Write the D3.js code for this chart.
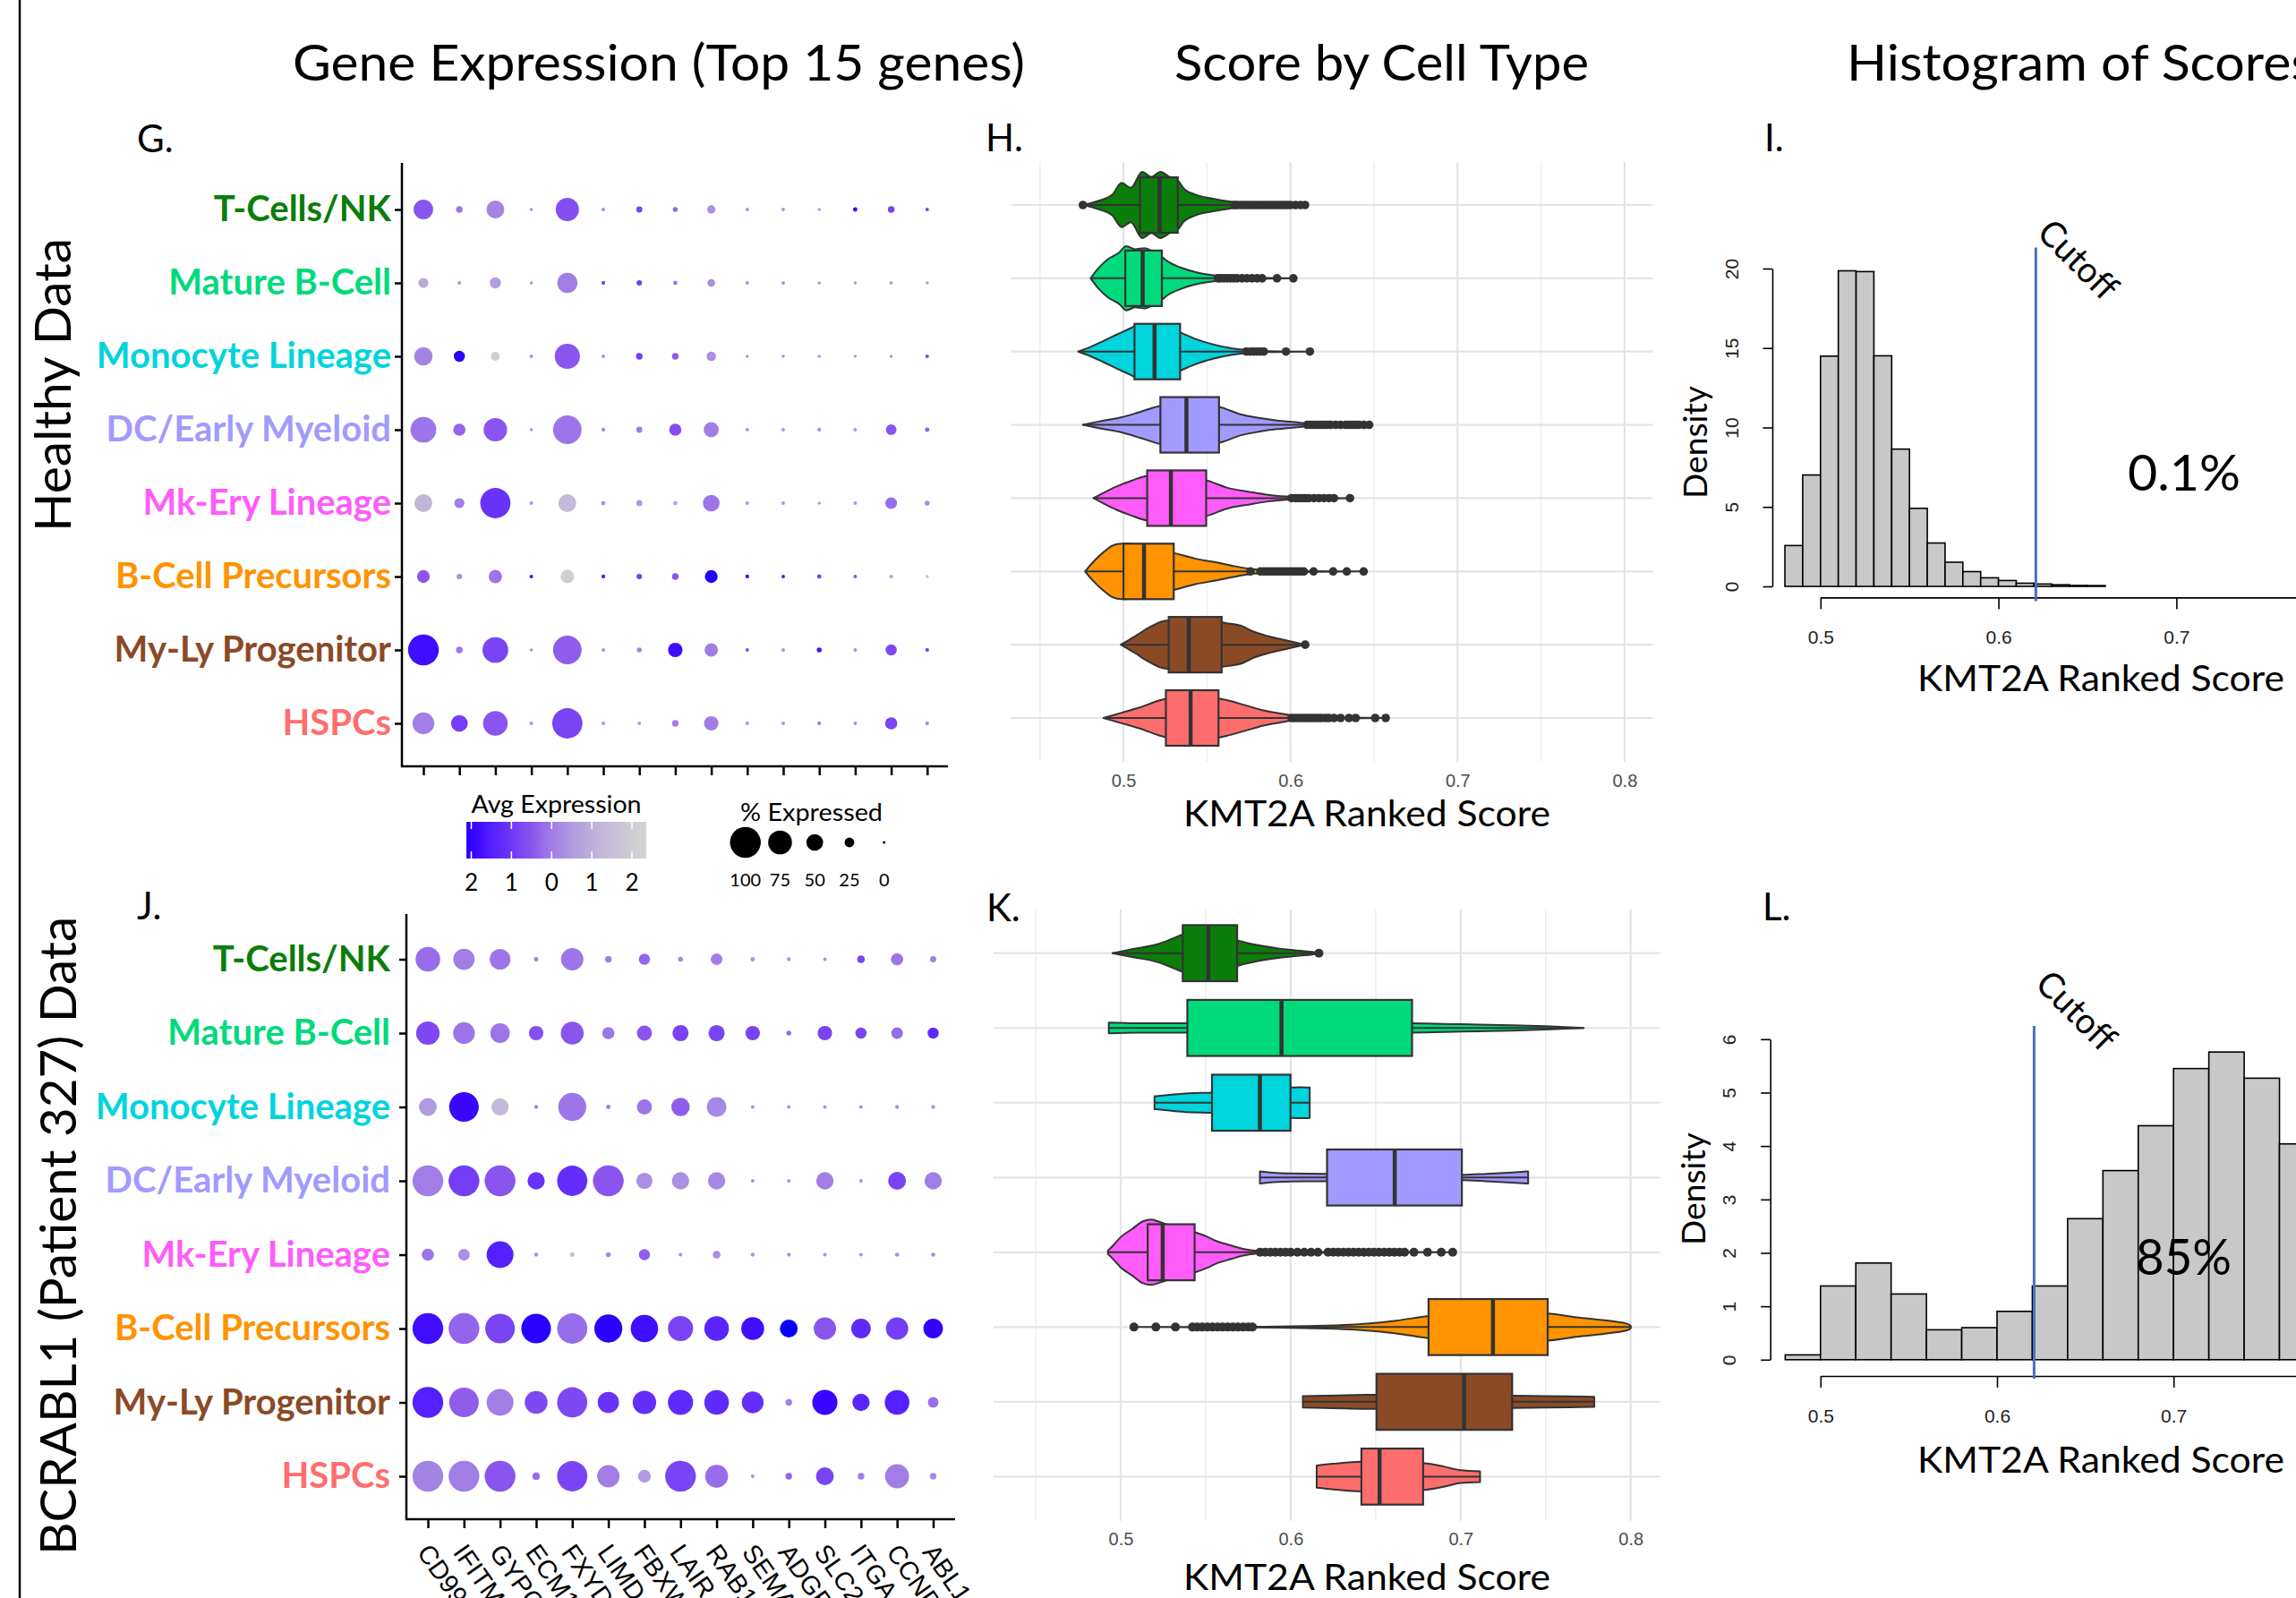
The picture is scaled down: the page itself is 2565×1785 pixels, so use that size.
<!DOCTYPE html>
<html><head><meta charset="utf-8">
<script src="https://cdn.jsdelivr.net/npm/d3@7"></script>
<style>body{margin:0;background:#fff;overflow:hidden}svg{display:block}</style>
</head><body>
<svg id="c" width="2565" height="1785"></svg>
<script>
// ---------------- DATA ----------------
const cellTypes = ["T-Cells/NK","Mature B-Cell","Monocyte Lineage","DC/Early Myeloid","Mk-Ery Lineage","B-Cell Precursors","My-Ly Progenitor","HSPCs"];
const cellColors = ["#0a7d0a","#00da7c","#00d4dc","#a39aff","#ff5cfa","#ff9300","#8b4a26","#ff6e6e"];
const genes = ["CD99","IFITM","GYPC","ECM1","FXYD","LIMD","FBXW","LAIR","RAB1","SEMA","ADGR","SLC2","ITGA","CCND","ABL1"];

// % expressed (rows = cell types, cols = genes)
const healthyPct = [
  [60,14,54,2,73,3,12,8,20,3,3,2,6,14,3],
  [26,3,30,2,62,4,10,6,18,3,3,2,2,3,2],
  [56,30,22,3,80,3,14,14,24,2,2,2,2,2,3],
  [82,34,74,2,92,4,12,34,44,3,3,4,3,28,6],
  [54,26,98,3,54,6,12,6,50,3,3,2,3,32,8],
  [36,10,38,3,38,4,10,14,36,4,3,6,3,3,2],
  [100,14,82,2,92,3,8,42,38,3,3,8,3,30,4],
  [68,50,78,3,98,3,3,14,42,3,3,4,3,34,4]
];
// average (scaled) expression
const healthyAvg = [
  [0.5,0.1,-0.1,-0.3,0.6,-0.2,0.8,0.3,-0.3,-0.4,-0.4,-0.4,1.9,0.8,0.8],
  [-0.9,-0.3,-0.6,-0.3,0.0,0.8,0.9,0.1,-0.3,-0.4,-0.4,-0.5,-0.5,-0.8,-0.6],
  [-0.1,2.1,-2.0,-0.3,0.5,-0.3,0.9,0.4,-0.3,-0.4,-0.4,-0.4,-0.5,-0.6,0.8],
  [0.1,0.3,0.5,-0.3,0.1,-0.2,0.0,0.6,0.0,-0.4,-0.4,-0.3,-0.4,0.5,0.4],
  [-1.2,0.0,1.1,-0.3,-1.3,-0.4,-0.5,-0.8,0.1,-0.4,-0.4,-0.4,-0.4,0.2,-0.2],
  [0.5,-0.3,0.1,1.8,-2.0,1.6,0.9,0.5,2.2,1.8,1.6,0.8,0.5,-0.5,-1.5],
  [1.8,0.1,0.8,-0.3,0.4,-0.3,-0.1,1.8,0.0,0.6,-0.3,1.8,-0.3,0.7,0.7],
  [0.0,0.9,0.5,-0.3,0.8,-0.3,-0.5,0.0,0.0,-0.4,-0.4,0.0,-0.3,0.8,-0.3]
];
const patientPct = [
  [78,66,64,6,70,14,30,8,32,6,4,3,18,34,12],
  [74,68,60,42,72,34,44,48,48,42,8,42,30,32,30],
  [54,96,52,4,90,6,44,56,60,3,3,3,3,4,4],
  [100,100,100,52,98,100,48,52,52,3,3,52,3,54,52],
  [34,32,86,4,6,8,30,3,18,4,4,3,3,5,5],
  [100,100,96,96,98,90,88,80,78,72,54,70,60,70,60],
  [100,96,86,72,98,66,74,80,78,68,14,80,52,78,28],
  [100,100,100,18,98,70,36,100,72,3,14,54,14,76,14]
];
const patientAvg = [
  [0.2,0.0,0.1,0.0,0.1,0.0,0.3,-0.2,0.0,-0.3,-0.3,-0.3,0.8,0.1,0.0],
  [0.7,0.1,0.1,0.6,0.5,0.1,0.5,0.8,0.8,0.8,0.2,0.8,0.8,0.2,1.3],
  [-0.5,1.9,-1.3,0.0,0.1,0.0,0.1,0.4,-0.2,-0.3,-0.3,-0.3,-0.3,-0.3,-0.3],
  [0.0,0.9,0.5,1.1,1.2,0.5,-0.3,-0.3,-0.2,-0.3,-0.3,0.0,-0.3,0.8,0.0],
  [0.1,-0.3,1.5,-0.2,-1.2,-0.2,0.4,-0.3,-0.3,-0.3,-0.3,-0.3,-0.3,-0.3,-0.2],
  [1.8,0.3,0.8,2.1,0.2,2.1,1.8,0.8,1.4,1.8,2.5,0.5,1.3,0.9,2.0],
  [1.5,0.4,0.0,0.7,0.7,1.1,1.2,1.3,1.3,1.2,0.0,1.9,1.4,1.5,0.2],
  [-0.1,0.0,0.5,0.2,0.8,0.0,-0.5,0.8,0.2,-0.3,0.3,0.8,0.0,0.0,-0.2]
];
const expLegendValues = [2,1,0,-1,-2];
const expLegendLabels = ["2","1","0","1","2"];
const pctLegendValues = [100,75,50,25,0];

// Violin density profiles [score, relative half-width]
const healthyViolins = [
  [[0.4757,0],[0.4852,0.13],[0.4934,0.32],[0.4989,0.67],[0.5044,0.52],[0.5112,1.0],[0.5167,0.85],[0.5221,1.0],[0.5276,0.85],[0.5331,0.71],[0.5358,0.52],[0.5427,0.32],[0.5536,0.19],[0.5645,0.1],[0.5809,0.05],[0.6087,0]],
  [[0.4803,0],[0.4852,0.32],[0.4907,0.58],[0.4975,0.78],[0.5016,0.97],[0.507,0.88],[0.5126,0.91],[0.518,0.8],[0.523,0.65],[0.5262,0.52],[0.5345,0.32],[0.5454,0.16],[0.5563,0.08],[0.57,0.04],[0.6017,0]],
  [[0.4729,0],[0.4798,0.13],[0.488,0.32],[0.4962,0.52],[0.5044,0.71],[0.5071,0.78],[0.515,0.82],[0.525,0.75],[0.5339,0.58],[0.5427,0.39],[0.5536,0.22],[0.5645,0.1],[0.5727,0.05],[0.5864,0.015],[0.6116,0]],
  [[0.4757,0],[0.4852,0.1],[0.4989,0.23],[0.5098,0.39],[0.5221,0.58],[0.54,0.68],[0.5591,0.52],[0.57,0.32],[0.5809,0.21],[0.5919,0.13],[0.6028,0.08],[0.611,0.04],[0.625,0.015],[0.6471,0]],
  [[0.482,0],[0.488,0.16],[0.4962,0.36],[0.5044,0.52],[0.5139,0.67],[0.53,0.72],[0.5509,0.52],[0.5618,0.32],[0.5755,0.19],[0.5864,0.1],[0.5973,0.05],[0.61,0.02],[0.6356,0]],
  [[0.477,0],[0.4825,0.32],[0.488,0.58],[0.4934,0.78],[0.4989,0.84],[0.51,0.8],[0.525,0.62],[0.5317,0.54],[0.5427,0.39],[0.5536,0.29],[0.5645,0.18],[0.5755,0.08],[0.59,0.03],[0.6438,0]],
  [[0.4984,0],[0.5071,0.26],[0.5153,0.52],[0.5235,0.71],[0.54,0.8],[0.5618,0.65],[0.57,0.58],[0.5782,0.39],[0.5864,0.26],[0.5973,0.13],[0.6088,0]],
  [[0.488,0],[0.4989,0.16],[0.5098,0.32],[0.5208,0.52],[0.54,0.7],[0.5618,0.54],[0.5727,0.39],[0.5837,0.23],[0.5946,0.13],[0.6028,0.06],[0.62,0.02],[0.657,0]]
];
// box stats [whiskerLow, q1, median, q3, whiskerHigh]
const healthyBoxes = [
  [0.4775,0.5099,0.5216,0.5325,0.5655],
  [0.4803,0.5011,0.5115,0.5230,0.5560],
  [0.4729,0.5066,0.5186,0.5339,0.5727],
  [0.4757,0.5221,0.5377,0.5572,0.6097],
  [0.4820,0.5142,0.5284,0.5495,0.6006],
  [0.4770,0.5000,0.5123,0.5301,0.5752],
  [0.4984,0.5271,0.5391,0.5588,0.6064],
  [0.4880,0.5254,0.5402,0.5569,0.6006]
];
const healthyOutliers = [
  [0.4757,0.5665,0.568,0.570,0.572,0.574,0.576,0.578,0.580,0.582,0.584,0.586,0.588,0.590,0.592,0.594,0.596,0.598,0.600,0.603,0.606,0.6087],
  [0.5565,0.558,0.560,0.562,0.564,0.566,0.568,0.571,0.574,0.577,0.580,0.583,0.5919,0.6017],
  [0.5735,0.576,0.578,0.580,0.582,0.584,0.5973,0.6116],
  [0.610,0.612,0.614,0.616,0.618,0.620,0.622,0.624,0.627,0.630,0.633,0.635,0.637,0.639,0.641,0.644,0.6471],
  [0.6006,0.603,0.605,0.607,0.609,0.611,0.614,0.617,0.620,0.623,0.626,0.6356],
  [0.576,0.582,0.584,0.586,0.588,0.590,0.592,0.594,0.596,0.598,0.600,0.602,0.604,0.606,0.608,0.6138,0.6255,0.6337,0.6438],
  [0.6088],
  [0.6006,0.6025,0.6045,0.6065,0.6085,0.6105,0.6125,0.6145,0.6165,0.6185,0.621,0.623,0.626,0.630,0.635,0.639,0.6507,0.657]
];
const patientViolins = [
  [[0.4952,0],[0.506,0.11],[0.522,0.27],[0.5328,0.48],[0.5365,0.55],[0.552,0.62],[0.5685,0.38],[0.5793,0.25],[0.5927,0.14],[0.606,0.07],[0.6126,0.04],[0.6166,0]],
  [[0.493,0.16],[0.51,0.14],[0.5392,0.14],[0.60,0.14],[0.6714,0.14],[0.70,0.11],[0.73,0.08],[0.75,0.05],[0.7724,0]],
  [[0.5199,0.19],[0.53,0.24],[0.54,0.28],[0.5537,0.3],[0.58,0.38],[0.5999,0.45],[0.605,0.46],[0.6112,0.45]],
  [[0.5819,0.18],[0.59,0.14],[0.60,0.12],[0.6214,0.11],[0.66,0.08],[0.7007,0.08],[0.715,0.11],[0.73,0.15],[0.7397,0.18]],
  [[0.4925,0.05],[0.4955,0.2],[0.50,0.45],[0.507,0.7],[0.513,0.92],[0.518,0.97],[0.523,0.9],[0.53,0.78],[0.5435,0.6],[0.55,0.48],[0.557,0.32],[0.565,0.2],[0.572,0.1],[0.58,0.04],[0.59,0.015],[0.65,0.008],[0.6953,0]],
  [[0.5078,0],[0.58,0.008],[0.608,0.03],[0.635,0.07],[0.662,0.19],[0.6811,0.33],[0.72,0.45],[0.7512,0.4],[0.768,0.29],[0.788,0.18],[0.7988,0.08],[0.8001,0.03]],
  [[0.6072,0.17],[0.62,0.18],[0.6505,0.21],[0.70,0.2],[0.7303,0.18],[0.75,0.17],[0.7786,0.15]],
  [[0.6153,0.33],[0.625,0.38],[0.6416,0.44],[0.66,0.44],[0.6779,0.4],[0.69,0.3],[0.70,0.19],[0.7114,0.16]]
];
const patientBoxes = [
  [0.4952,0.5365,0.5516,0.5685,0.6150],
  [0.4930,0.5392,0.5946,0.6714,0.7724],
  [0.5199,0.5537,0.5819,0.5999,0.6112],
  [0.5819,0.6214,0.6612,0.7007,0.7397],
  [0.4925,0.5159,0.5247,0.5435,0.5811],
  [0.5790,0.6811,0.7190,0.7512,0.8001],
  [0.6072,0.6505,0.7020,0.7303,0.7786],
  [0.6153,0.6416,0.6523,0.6779,0.7114]
];
const patientOutliers = [
  [0.6166],
  [],
  [],
  [],
  [0.582,0.585,0.588,0.591,0.594,0.597,0.600,0.604,0.608,0.612,0.616,0.622,0.625,0.628,0.631,0.634,0.637,0.640,0.643,0.646,0.649,0.652,0.655,0.658,0.661,0.664,0.667,0.6725,0.6805,0.6886,0.6953],
  [0.5078,0.5207,0.5322,0.5422,0.545,0.548,0.551,0.554,0.557,0.560,0.563,0.566,0.569,0.572,0.575,0.5775],
  [],
  []
];
const scoreTicks = [0.5,0.6,0.7,0.8];
const scoreGrid = [0.45,0.5,0.55,0.6,0.65,0.7,0.75,0.8];

// Histograms
const healthyBinStarts = [0.48,0.49,0.50,0.51,0.52,0.53,0.54,0.55,0.56,0.57,0.58,0.59,0.60,0.61,0.62,0.63,0.64,0.65];
const healthyBinWidth = 0.01;
const healthyDensity = [2.57,7.01,14.49,19.86,19.81,14.51,8.64,4.91,2.73,1.52,0.93,0.54,0.37,0.2,0.15,0.1,0.06,0.05];
const patientBinStarts = [0.48,0.50,0.52,0.54,0.56,0.58,0.60,0.62,0.64,0.66,0.68,0.70,0.72,0.74,0.76];
const patientBinWidth = 0.02;
const patientDensity = [0.09,1.38,1.81,1.23,0.56,0.60,0.905,1.38,2.64,3.54,4.38,5.45,5.76,5.27,4.04];
const healthyDensityTicks = [0,5,10,15,20];
const patientDensityTicks = [0,1,2,3,4,5,6];
const histTicks = [0.5,0.6,0.7,0.8];
const cutoffScore = 0.621;
const healthyAbove = "0.1%";
const patientAbove = "85%";

// ---------------- DRAWING ----------------
const SANS = "Lato, 'Open Sans', 'Noto Sans', sans-serif";
const ARIAL = "'Liberation Sans', Arial, Helvetica, sans-serif";
const svg = d3.select('#c');
svg.append('rect').attr('width',2565).attr('height',1785).attr('fill','#fff');

function txt(parent, s, x, y, o = {}) {
  const t = parent.append('text').attr('x', x).attr('y', y).text(s)
    .attr('font-family', o.family || SANS).attr('font-size', o.size || 20)
    .attr('fill', o.fill || '#000').attr('text-anchor', o.anchor || 'start');
  if (o.weight) t.attr('font-weight', o.weight);
  if (o.len) t.attr('textLength', o.len).attr('lengthAdjust', 'spacingAndGlyphs');
  if (o.transform) t.attr('transform', o.transform);
  return t;
}

// left border
svg.append('line').attr('x1',22).attr('x2',22).attr('y1',0).attr('y2',1785).attr('stroke','#000').attr('stroke-width',2.5);

// section titles
txt(svg, "Gene Expression (Top 15 genes)", 327, 90, {size:57, len:818});
txt(svg, "Score by Cell Type", 1312, 90, {size:57, len:463});
txt(svg, "Histogram of Scores", 2063, 90, {size:57, len:522});
// row titles
txt(svg, "Healthy Data", 0, 0, {size:57, len:328, anchor:'middle', transform:'translate(79,430) rotate(-90)'});
txt(svg, "BCRABL1 (Patient 327) Data", 0, 0, {size:57, len:713, anchor:'middle', transform:'translate(85,1380.5) rotate(-90)'});
// panel letters
[["G.",153,170],["H.",1101,169],["I.",1971,169],["J.",153,1027],["K.",1102,1029],["L.",1969,1028]]
  .forEach(([s,x,y]) => txt(svg, s, x, y, {size:42}));

// color & size scales for dot plots
const expColor = d3.scaleLinear()
  .domain([2.5, 2.0, 1.5, 1.0, 0.5, 0, -0.5, -1.2, -2.2])
  .range(["#0800ff","#3300ff","#5520ff","#6d38f8","#8a55ee","#a07ee6","#b09ae0","#c2b6d8","#d3d3d3"])
  .clamp(true);
const pctRadius = d3.scaleLinear().domain([0,100]).range([1.5,17.2]);

function dotPanel(pct, avg, cfg) {
  const g = svg.append('g');
  const x = d3.scalePoint().domain(genes).range([cfg.colFirst, cfg.colLast]);
  const y = d3.scalePoint().domain(cellTypes).range([cfg.rowFirst, cfg.rowLast]);
  g.append('g').attr('transform', `translate(0,${cfg.axisBottom})`)
    .call(d3.axisBottom(x).tickSize(10).tickFormat(''))
    .call(a => { a.select('.domain').remove(); a.selectAll('line').attr('stroke','#000').attr('stroke-width',2.5); });
  g.append('g').attr('transform', `translate(${cfg.axisX},0)`)
    .call(d3.axisLeft(y).tickSize(8).tickFormat(''))
    .call(a => { a.select('.domain').remove(); a.selectAll('line').attr('stroke','#000').attr('stroke-width',2.5); });
  g.append('path').attr('d', `M${cfg.axisX},${cfg.axisTop}V${cfg.axisBottom}H${cfg.axisRight}`)
    .attr('fill','none').attr('stroke','#000').attr('stroke-width',2.5);
  cellTypes.forEach((ct, i) => txt(g, ct, cfg.labelX, y(ct) + 13, {size:40, weight:'bold', anchor:'end', fill:cellColors[i]}));
  const cells = [];
  cellTypes.forEach((ct, i) => genes.forEach((gn, j) => cells.push({ct, gn, p: pct[i][j], a: avg[i][j]})));
  g.selectAll('circle.dot').data(cells).join('circle').attr('class','dot')
    .attr('cx', d => x(d.gn)).attr('cy', d => y(d.ct))
    .attr('r', d => pctRadius(d.p)).attr('fill', d => expColor(d.a));
  if (cfg.geneLabels) {
    genes.forEach(gn => txt(g, gn, 0, 0, {size:29, family:ARIAL,
      transform:`translate(${x(gn) - 13},${cfg.axisBottom + 37}) rotate(55)`}));
  }
}
dotPanel(healthyPct, healthyAvg, {colFirst:473, colLast:1035.8, rowFirst:234, rowLast:808,
  axisX:449, axisTop:182, axisBottom:856, axisRight:1059, labelX:437, geneLabels:false});
dotPanel(patientPct, patientAvg, {colFirst:478, colLast:1042.5, rowFirst:1071.5, rowLast:1649,
  axisX:454, axisTop:1021, axisBottom:1697, axisRight:1067, labelX:436, geneLabels:true});

// legends
(function(){
  const g = svg.append('g');
  txt(g, "Avg Expression", 526.5, 908, {size:27, len:190});
  const lx = d3.scaleLinear().domain([2,-2]).range([526.5,706]);
  const defs = svg.append('defs');
  const grad = defs.append('linearGradient').attr('id','expgrad').attr('x1','0%').attr('x2','100%');
  const x0 = 521, x1 = 722;
  d3.range(0, 21).forEach(k => {
    const px = x0 + (x1 - x0) * k / 20;
    grad.append('stop').attr('offset', (k*5) + '%').attr('stop-color', expColor(lx.invert(px)));
  });
  g.append('rect').attr('x',x0).attr('y',918).attr('width',x1-x0).attr('height',41).attr('fill','url(#expgrad)');
  expLegendValues.forEach((v,i) => {
    g.append('line').attr('x1',lx(v)).attr('x2',lx(v)).attr('y1',918).attr('y2',926).attr('stroke','#fff').attr('stroke-width',1.5);
    g.append('line').attr('x1',lx(v)).attr('x2',lx(v)).attr('y1',951).attr('y2',959).attr('stroke','#fff').attr('stroke-width',1.5);
    txt(g, expLegendLabels[i], lx(v), 995, {size:26, anchor:'middle'});
  });
  txt(g, "% Expressed", 827, 917, {size:27, len:159});
  const px = d3.scalePoint().domain(pctLegendValues).range([832.7, 987.7]);
  pctLegendValues.forEach(v => {
    g.append('circle').attr('cx', px(v)).attr('cy', 941).attr('r', pctRadius(v)).attr('fill','#000');
    txt(g, String(v), px(v), 990, {size:20, anchor:'middle'});
  });
})();

// violin panels
function violinPanel(profiles, boxes, outliers, cfg) {
  const g = svg.append('g');
  const x = d3.scaleLinear().domain([0.5,0.8]).range([cfg.x05, cfg.x08]);
  const y = d3.scalePoint().domain(cellTypes).range([cfg.yFirst, cfg.yLast]);
  scoreGrid.forEach(v => {
    const major = scoreTicks.includes(v);
    g.append('line').attr('x1',x(v)).attr('x2',x(v)).attr('y1',cfg.gridTop).attr('y2',cfg.gridBottom)
      .attr('stroke', major ? '#e4e4e4' : '#efefef').attr('stroke-width', major ? 2.2 : 1.6);
  });
  cellTypes.forEach(ct => g.append('line').attr('x1',cfg.gridLeft).attr('x2',cfg.gridRight)
    .attr('y1',y(ct)).attr('y2',y(ct)).attr('stroke','#e4e4e4').attr('stroke-width',2.2));
  g.append('g').attr('transform',`translate(0,${cfg.tickY})`)
    .call(d3.axisBottom(x).tickValues(scoreTicks).tickSize(0).tickPadding(0).tickFormat(d3.format('.1f')))
    .call(a => { a.select('.domain').remove(); a.selectAll('text').attr('font-size',20).attr('font-family',ARIAL).attr('fill','#4d4d4d'); });
  txt(g, "KMT2A Ranked Score", cfg.titleX, cfg.titleY, {size:40, len:410});
  cellTypes.forEach((ct, i) => {
    const cy = y(ct);
    const area = d3.area().x(d => x(d[0]))
      .y0(d => cy - d[1]*cfg.maxHalf).y1(d => cy + d[1]*cfg.maxHalf).curve(d3.curveMonotoneX);
    g.append('path').attr('d', area(profiles[i])).attr('fill', cellColors[i])
      .attr('stroke','#333').attr('stroke-width',2).attr('stroke-linejoin','round');
    const b = boxes[i];
    g.append('line').attr('x1',x(b[0])).attr('x2',x(b[4])).attr('y1',cy).attr('y2',cy).attr('stroke','#333').attr('stroke-width',2);
    g.append('rect').attr('x',x(b[1])).attr('y',cy-cfg.boxHalf).attr('width',x(b[3])-x(b[1])).attr('height',2*cfg.boxHalf)
      .attr('fill',cellColors[i]).attr('stroke','#333').attr('stroke-width',2.2);
    g.append('line').attr('x1',x(b[2])).attr('x2',x(b[2])).attr('y1',cy-cfg.boxHalf).attr('y2',cy+cfg.boxHalf)
      .attr('stroke','#333').attr('stroke-width',4.5);
    g.selectAll(null).data(outliers[i]).join('circle')
      .attr('cx', d => x(d)).attr('cy', cy).attr('r', cfg.outR).attr('fill','#333');
  });
}
violinPanel(healthyViolins, healthyBoxes, healthyOutliers, {x05:1255.1, x08:1814.9, yFirst:229, yLast:802,
  gridTop:181, gridBottom:851, gridLeft:1129.6, gridRight:1846.4, maxHalf:36.9, boxHalf:31, outR:4.8,
  tickY:864.5, titleX:1322, titleY:923});
violinPanel(patientViolins, patientBoxes, patientOutliers, {x05:1252, x08:1821.7, yFirst:1064.7, yLast:1649.4,
  gridTop:1016, gridBottom:1698.7, gridLeft:1110, gridRight:1855, maxHalf:37.6, boxHalf:31.3, outR:5,
  tickY:1712, titleX:1322, titleY:1775.5});

// histograms
function histPanel(starts, width, dens, yTicks, cfg) {
  const g = svg.append('g');
  const x = d3.scaleLinear().domain([0.5,0.8]).range([cfg.x05, cfg.x05 + 3*cfg.per01]);
  const y = d3.scaleLinear().domain([yTicks[0], yTicks[yTicks.length-1]]).range([cfg.y0, cfg.yTop]);
  g.selectAll('rect.bar').data(starts).join('rect').attr('class','bar')
    .attr('x', d => x(d)).attr('width', d => x(d + width) - x(d))
    .attr('y', (d,i) => y(dens[i])).attr('height', (d,i) => y(0) - y(dens[i]))
    .attr('fill','#c8c8c8').attr('stroke','#000').attr('stroke-width',1.6);
  g.append('g').attr('transform',`translate(${cfg.yAxisX},0)`)
    .call(d3.axisLeft(y).tickValues(yTicks).tickSize(10.5).tickSizeOuter(0).tickFormat(d3.format('d')))
    .call(a => {
      a.select('.domain').attr('stroke','#000').attr('stroke-width',1.6);
      a.selectAll('line').attr('stroke','#000').attr('stroke-width',1.6);
      a.selectAll('text').attr('font-size',21).attr('font-family',ARIAL).attr('fill','#222')
        .attr('text-anchor','middle').attr('dy',null).attr('x',0).attr('y',-38.5).attr('transform','rotate(-90)');
    });
  g.append('g').attr('transform',`translate(0,${cfg.xAxisY})`)
    .call(d3.axisBottom(x).tickValues(histTicks).tickSize(13).tickSizeOuter(0).tickPadding(24).tickFormat(d3.format('.1f')))
    .call(a => {
      a.select('.domain').attr('stroke','#000').attr('stroke-width',1.6);
      a.selectAll('line').attr('stroke','#000').attr('stroke-width',1.6);
      a.selectAll('text').attr('font-size',21).attr('font-family',ARIAL).attr('fill','#222');
    });
  const cx = x(cutoffScore);
  g.append('line').attr('x1',cx).attr('x2',cx).attr('y1',cfg.cutTop).attr('y2',cfg.cutBottom)
    .attr('stroke','#4472c4').attr('stroke-width',3);
  txt(g, "Cutoff", 0, 0, {size:40, len:107, transform:`translate(${cfg.cutTextX},${cfg.cutTextY}) rotate(45)`});
  txt(g, cfg.pctText, cfg.pctX, cfg.pctY, {size:57, len:cfg.pctLen});
  txt(g, "Density", 0, 0, {size:36, len:126, anchor:'middle', transform:`translate(${cfg.densX},${cfg.densY}) rotate(-90)`});
  txt(g, "KMT2A Ranked Score", 2142, cfg.titleY, {size:40, len:410});
}
histPanel(healthyBinStarts, healthyBinWidth, healthyDensity, healthyDensityTicks, {
  x05:2033.8, per01:198.8, y0:655, yTop:300, yAxisX:1980, xAxisY:667.4, cutTop:276.5, cutBottom:671.6,
  cutTextX:2274, cutTextY:262, pctText:healthyAbove, pctX:2377, pctY:548, pctLen:126,
  densX:1907, densY:494, titleY:772});
histPanel(patientBinStarts, patientBinWidth, patientDensity, patientDensityTicks, {
  x05:2033.8, per01:197.2, y0:1518.8, yTop:1160.8, yAxisX:1977.7, xAxisY:1537, cutTop:1146, cutBottom:1540,
  cutTextX:2272, cutTextY:1101, pctText:patientAbove, pctX:2386, pctY:1424, pctLen:107,
  densX:1905, densY:1328, titleY:1645});
</script>
</body></html>
